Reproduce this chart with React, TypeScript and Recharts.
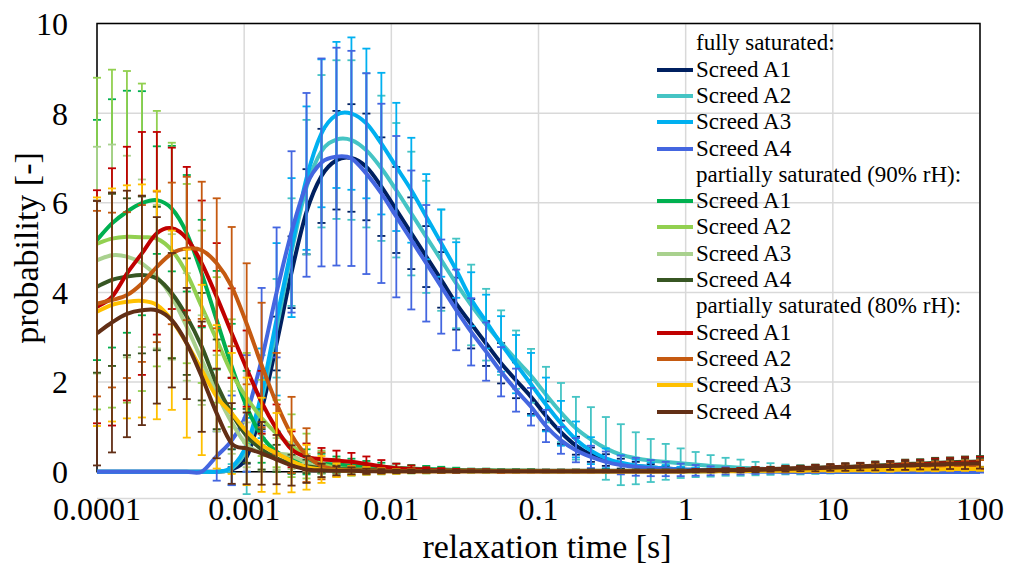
import { LineChart, Line, XAxis, YAxis, CartesianGrid, ErrorBar, ReferenceArea } from 'recharts'

const FONT = '"Liberation Serif", "Times New Roman", serif'

// relaxation time [s], 60 log-spaced points from 1e-4 to 100
const relaxationTime = [
  0.0001, 0.0001264, 0.0001597, 0.0002019, 0.0002551, 0.0003224, 0.0004075, 0.000515, 0.0006509, 0.0008228,
  0.00104, 0.001314, 0.001661, 0.002099, 0.002653, 0.003353, 0.004238, 0.005356, 0.006769, 0.008556,
  0.01081, 0.01367, 0.01727, 0.02183, 0.02759, 0.03487, 0.04407, 0.0557, 0.0704, 0.08897,
  0.1124, 0.1421, 0.1796, 0.227, 0.2869, 0.3626, 0.4582, 0.5791, 0.7319, 0.925,
  1.169, 1.478, 1.868, 2.36, 2.983, 3.771, 4.765, 6.022, 7.611, 9.619,
  12.16, 15.36, 19.42, 24.54, 31.01, 39.2, 49.54, 62.61, 79.13, 100,
]

const xTicks = [0.0001, 0.001, 0.01, 0.1, 1, 10, 100]
const yTicks = [0, 2, 4, 6, 8, 10]

// fully saturated
const fullA1 = [
  0, 0, 0, 0, 0, 0, 0, 0, 0, 0.05,
  0.33, 1.38, 2.86, 4.45, 5.8, 6.6, 6.95, 7.0, 6.8, 6.36,
  5.84, 5.32, 4.8, 4.28, 3.75, 3.3, 2.86, 2.42, 2.04, 1.67,
  1.25, 0.88, 0.58, 0.38, 0.26, 0.18, 0.13, 0.1, 0.07, 0.05,
  0.04, 0.03, 0.02, 0.02, 0.01, 0.01, 0.01, 0, 0, 0,
  0, 0, 0, 0, 0, 0, 0, 0, 0, 0,
]
const fullA1Err = [
  0, 0, 0, 0, 0, 0, 0, 0, 0, 0.05,
  0.15, 0.35, 0.6, 0.8, 0.95, 1.05, 1.1, 1.2, 1.19, 1.1,
  0.96, 0.8, 0.68, 0.62, 0.58, 0.55, 0.5, 0.45, 0.4, 0.38,
  0.32, 0.26, 0.2, 0.16, 0.13, 0.11, 0.09, 0.07, 0.06, 0.05,
  0.04, 0.04, 0.03, 0.03, 0.02, 0.02, 0.02, 0.01, 0.01, 0.01,
  0, 0, 0, 0, 0, 0, 0, 0, 0, 0,
]
const fullA2 = [
  0, 0, 0, 0, 0, 0, 0, 0, 0, 0.07,
  0.5, 1.6, 3.2, 4.9, 6.35, 7.15, 7.41, 7.4, 7.17, 6.77,
  6.28, 5.76, 5.24, 4.72, 4.2, 3.72, 3.28, 2.88, 2.5, 2.14,
  1.72, 1.32, 0.97, 0.72, 0.52, 0.38, 0.3, 0.25, 0.22, 0.19,
  0.16, 0.13, 0.11, 0.09, 0.07, 0.06, 0.05, 0.04, 0.03, 0.02,
  0.02, 0.01, 0.01, 0.01, 0.01, 0.01, 0.01, 0.01, 0.01, 0.01,
]
const fullA2Err = [
  0, 0, 0, 0, 0, 0, 0, 0, 0, 0.1,
  1.0, 1.0, 1.1, 1.2, 1.5, 1.7, 1.77, 1.78, 1.72, 1.62,
  1.5, 1.38, 1.25, 1.13, 1.0, 0.9, 0.8, 0.72, 0.65, 0.6,
  0.62, 0.66, 0.7, 0.72, 0.7, 0.68, 0.58, 0.48, 0.4, 0.33,
  0.28, 0.24, 0.2, 0.18, 0.15, 0.13, 0.11, 0.1, 0.08, 0.06,
  0.05, 0.04, 0.04, 0.03, 0.03, 0.03, 0.02, 0.02, 0.02, 0.02,
]
const fullA3 = [
  0, 0, 0, 0, 0, 0, 0, 0, 0, 0.1,
  0.6, 1.75, 3.4, 5.0, 6.55, 7.55, 7.96, 7.99, 7.77, 7.32,
  6.8, 6.28, 5.69, 5.1, 4.5, 3.85, 3.35, 2.85, 2.4, 1.95,
  1.5, 1.08, 0.72, 0.47, 0.3, 0.2, 0.14, 0.1, 0.07, 0.05,
  0.04, 0.03, 0.02, 0.02, 0.01, 0.01, 0.01, 0.01, 0, 0,
  0, 0, 0, 0, 0, 0, 0, 0, 0, 0,
]
const fullA3Err = [
  0, 0, 0, 0, 0, 0, 0, 0, 0, 0.4,
  0.6, 1.0, 1.7, 1.55, 1.6, 1.65, 1.63, 1.7, 1.67, 1.58,
  1.43, 1.17, 0.95, 0.75, 0.62, 0.6, 0.6, 0.62, 0.65, 0.7,
  0.6, 0.5, 0.4, 0.3, 0.22, 0.17, 0.13, 0.1, 0.08, 0.06,
  0.05, 0.04, 0.03, 0.03, 0.02, 0.02, 0.02, 0.01, 0.01, 0.01,
  0, 0, 0, 0, 0, 0, 0, 0, 0, 0,
]
const fullA4 = [
  0, 0, 0, 0, 0, 0, 0, 0, 0.35, 0.7,
  1.3, 2.5, 4.0, 5.35, 6.4, 6.9, 7.03, 6.99, 6.65, 6.21,
  5.69, 5.17, 4.65, 4.13, 3.61, 3.12, 2.68, 2.23, 1.82, 1.45,
  1.02, 0.7, 0.48, 0.33, 0.22, 0.15, 0.11, 0.08, 0.06, 0.04,
  0.03, 0.02, 0.02, 0.01, 0.01, 0.01, 0, 0, 0, 0,
  0, 0, 0, 0, 0, 0, 0, 0, 0, 0,
]
const fullA4Err = [
  0, 0, 0, 0, 0, 0, 0, 0, 0.55, 1.0,
  1.3, 1.6, 1.45, 1.8, 2.05, 2.32, 2.43, 2.4, 2.24, 2.0,
  1.8, 1.55, 1.3, 1.05, 0.9, 0.75, 0.65, 0.55, 0.48, 0.42,
  0.36, 0.3, 0.27, 0.25, 0.23, 0.21, 0.2, 0.18, 0.16, 0.14,
  0.12, 0.1, 0.08, 0.07, 0.06, 0.05, 0.04, 0.04, 0.03, 0.03,
  0.02, 0.02, 0.02, 0.02, 0.02, 0.02, 0.02, 0.02, 0.02, 0.02,
]

// partially saturated (90% rH)
const rh90A1 = [
  5.17, 5.54, 5.8, 5.99, 6.06, 5.87, 5.32, 4.42, 3.38, 2.35,
  1.45, 0.8, 0.45, 0.3, 0.22, 0.18, 0.16, 0.14, 0.12, 0.1,
  0.09, 0.07, 0.06, 0.05, 0.04, 0.03, 0.03, 0.02, 0.02, 0.02,
  0.01, 0.01, 0.01, 0.01, 0.01, 0.01, 0.01, 0.01, 0.01, 0.01,
  0.01, 0.02, 0.02, 0.03, 0.03, 0.04, 0.05, 0.05, 0.06, 0.07,
  0.08, 0.09, 0.1, 0.11, 0.12, 0.13, 0.14, 0.15, 0.16, 0.17,
]
const rh90A1Err = [
  2.68, 2.77, 2.7, 2.5, 1.2, 1.4, 1.3, 1.2, 1.1, 0.95,
  0.8, 0.6, 0.45, 0.35, 0.28, 0.22, 0.18, 0.15, 0.12, 0.1,
  0.09, 0.08, 0.07, 0.06, 0.05, 0.04, 0.04, 0.03, 0.03, 0.03,
  0.02, 0.02, 0.02, 0.02, 0.02, 0.02, 0.02, 0.02, 0.02, 0.02,
  0.02, 0.02, 0.03, 0.03, 0.04, 0.04, 0.05, 0.05, 0.06, 0.06,
  0.07, 0.07, 0.08, 0.08, 0.09, 0.09, 0.1, 0.1, 0.11, 0.11,
]
const rh90A2 = [
  5.09, 5.2, 5.24, 5.23, 5.2, 4.94, 4.42, 3.68, 2.94, 2.2,
  1.65, 1.2, 0.85, 0.58, 0.35, 0.17, 0.09, 0.06, 0.05, 0.04,
  0.03, 0.03, 0.02, 0.02, 0.02, 0.02, 0.01, 0.01, 0.01, 0.01,
  0.01, 0.01, 0.01, 0.01, 0.01, 0.01, 0.01, 0.01, 0.01, 0.01,
  0.01, 0.01, 0.02, 0.02, 0.03, 0.03, 0.04, 0.05, 0.05, 0.06,
  0.07, 0.08, 0.09, 0.1, 0.11, 0.12, 0.13, 0.14, 0.15, 0.16,
]
const rh90A2Err = [
  3.7, 3.77, 3.7, 3.43, 2.85, 2.4, 2.0, 1.7, 1.4, 1.2,
  1.0, 0.85, 0.75, 0.7, 0.5, 0.3, 0.2, 0.15, 0.12, 0.1,
  0.08, 0.07, 0.06, 0.05, 0.04, 0.04, 0.03, 0.03, 0.03, 0.02,
  0.02, 0.02, 0.02, 0.02, 0.02, 0.02, 0.02, 0.02, 0.02, 0.02,
  0.02, 0.02, 0.03, 0.03, 0.04, 0.04, 0.05, 0.05, 0.06, 0.06,
  0.07, 0.07, 0.08, 0.08, 0.09, 0.09, 0.1, 0.1, 0.11, 0.11,
]
const rh90A3 = [
  4.72, 4.83, 4.8, 4.65, 4.35, 3.9, 3.23, 2.49, 1.75, 1.1,
  0.6, 0.43, 0.4, 0.36, 0.2, 0.08, 0.05, 0.04, 0.03, 0.03,
  0.02, 0.02, 0.02, 0.02, 0.02, 0.02, 0.02, 0.02, 0.02, 0.02,
  0.01, 0.01, 0.01, 0.01, 0.01, 0.01, 0.01, 0.01, 0.01, 0.01,
  0.01, 0.01, 0.02, 0.02, 0.03, 0.03, 0.04, 0.04, 0.05, 0.06,
  0.07, 0.08, 0.09, 0.1, 0.11, 0.12, 0.13, 0.13, 0.14, 0.15,
]
const rh90A3Err = [
  2.53, 2.47, 2.25, 1.87, 1.6, 1.4, 1.2, 1.0, 0.85, 0.7,
  0.5, 0.4, 0.35, 0.3, 0.2, 0.12, 0.1, 0.08, 0.07, 0.06,
  0.05, 0.05, 0.04, 0.04, 0.03, 0.03, 0.03, 0.02, 0.02, 0.02,
  0.02, 0.02, 0.02, 0.02, 0.02, 0.02, 0.02, 0.02, 0.02, 0.02,
  0.02, 0.02, 0.03, 0.03, 0.04, 0.04, 0.05, 0.05, 0.06, 0.06,
  0.07, 0.07, 0.08, 0.08, 0.09, 0.09, 0.1, 0.1, 0.11, 0.11,
]
const rh90A4 = [
  4.13, 4.28, 4.35, 4.39, 4.31, 3.98, 3.46, 2.79, 1.95, 1.3,
  0.8, 0.5, 0.3, 0.18, 0.12, 0.08, 0.06, 0.05, 0.04, 0.03,
  0.03, 0.02, 0.02, 0.02, 0.02, 0.02, 0.02, 0.02, 0.02, 0.02,
  0.02, 0.02, 0.02, 0.02, 0.02, 0.02, 0.02, 0.02, 0.02, 0.02,
  0.02, 0.03, 0.03, 0.04, 0.05, 0.06, 0.07, 0.08, 0.09, 0.1,
  0.11, 0.12, 0.14, 0.15, 0.17, 0.18, 0.2, 0.21, 0.22, 0.23,
]
const rh90A4Err = [
  1.92, 1.92, 1.75, 1.75, 1.6, 1.45, 1.3, 1.2, 1.0, 0.8,
  0.6, 0.45, 0.3, 0.2, 0.15, 0.1, 0.08, 0.06, 0.05, 0.05,
  0.04, 0.04, 0.04, 0.04, 0.03, 0.03, 0.03, 0.03, 0.03, 0.03,
  0.03, 0.03, 0.03, 0.03, 0.03, 0.03, 0.03, 0.03, 0.03, 0.03,
  0.03, 0.03, 0.04, 0.04, 0.05, 0.05, 0.06, 0.06, 0.07, 0.07,
  0.08, 0.08, 0.09, 0.09, 0.1, 0.1, 0.11, 0.11, 0.12, 0.12,
]

// partially saturated (80% rH)
const rh80A1 = [
  3.68, 3.9, 4.42, 4.87, 5.32, 5.43, 5.2, 4.65, 3.9, 3.09,
  2.3, 1.55, 0.95, 0.5, 0.33, 0.28, 0.25, 0.22, 0.17, 0.12,
  0.08, 0.06, 0.04, 0.03, 0.02, 0.02, 0.02, 0.01, 0.01, 0.01,
  0.01, 0.01, 0.01, 0.01, 0.01, 0.01, 0.01, 0.01, 0.01, 0.01,
  0.02, 0.02, 0.03, 0.04, 0.05, 0.05, 0.06, 0.07, 0.08, 0.09,
  0.1, 0.11, 0.12, 0.14, 0.15, 0.16, 0.18, 0.19, 0.2, 0.21,
]
const rh80A1Err = [
  2.6, 2.87, 2.83, 2.71, 2.26, 1.8, 1.6, 1.4, 1.2, 1.0,
  0.85, 0.7, 0.55, 0.4, 0.3, 0.25, 0.22, 0.2, 0.17, 0.14,
  0.1, 0.08, 0.06, 0.05, 0.04, 0.03, 0.03, 0.03, 0.02, 0.02,
  0.02, 0.02, 0.02, 0.02, 0.02, 0.02, 0.02, 0.02, 0.02, 0.02,
  0.03, 0.03, 0.04, 0.04, 0.05, 0.05, 0.06, 0.06, 0.07, 0.07,
  0.08, 0.08, 0.09, 0.09, 0.1, 0.1, 0.11, 0.11, 0.12, 0.12,
]
const rh80A2 = [
  3.75, 3.83, 3.94, 4.2, 4.57, 4.87, 4.98, 4.94, 4.65, 4.13,
  3.3, 2.38, 1.52, 0.82, 0.37, 0.13, 0.05, 0.03, 0.02, 0.02,
  0.01, 0.01, 0.01, 0.01, 0.01, 0.01, 0.01, 0.01, 0.01, 0.01,
  0.01, 0.01, 0.01, 0.01, 0.01, 0.01, 0.01, 0.01, 0.01, 0.01,
  0.01, 0.01, 0.02, 0.02, 0.03, 0.03, 0.04, 0.04, 0.05, 0.06,
  0.07, 0.08, 0.09, 0.1, 0.11, 0.12, 0.12, 0.13, 0.14, 0.15,
]
const rh80A2Err = [
  2.07, 1.95, 1.85, 1.75, 1.68, 1.58, 1.6, 1.53, 1.45, 1.33,
  1.35, 1.39, 1.13, 0.85, 0.6, 0.3, 0.15, 0.1, 0.08, 0.06,
  0.05, 0.04, 0.03, 0.03, 0.02, 0.02, 0.02, 0.02, 0.02, 0.02,
  0.02, 0.02, 0.02, 0.02, 0.02, 0.02, 0.02, 0.02, 0.02, 0.02,
  0.02, 0.02, 0.03, 0.03, 0.04, 0.04, 0.05, 0.05, 0.06, 0.06,
  0.07, 0.07, 0.08, 0.08, 0.09, 0.09, 0.1, 0.1, 0.11, 0.11,
]
const rh80A3 = [
  3.57, 3.72, 3.79, 3.81, 3.72, 3.38, 2.86, 2.27, 1.67, 1.3,
  0.9, 0.6, 0.41, 0.24, 0.1, 0.05, 0.03, 0.02, 0.02, 0.01,
  0.01, 0.01, 0.01, 0.01, 0.01, 0.01, 0.01, 0.01, 0.01, 0.01,
  0.01, 0.01, 0.01, 0.01, 0.01, 0.01, 0.01, 0.01, 0.01, 0.01,
  0.01, 0.01, 0.01, 0.01, 0.02, 0.02, 0.02, 0.02, 0.03, 0.03,
  0.03, 0.04, 0.04, 0.04, 0.05, 0.05, 0.05, 0.06, 0.06, 0.06,
]
const rh80A3Err = [
  2.55, 2.6, 2.6, 2.6, 2.55, 2.0, 2.1, 1.9, 1.6, 1.35,
  1.2, 1.05, 0.9, 0.7, 0.5, 0.3, 0.15, 0.1, 0.08, 0.06,
  0.05, 0.04, 0.03, 0.03, 0.02, 0.02, 0.02, 0.02, 0.02, 0.02,
  0.02, 0.02, 0.02, 0.02, 0.02, 0.02, 0.02, 0.02, 0.02, 0.02,
  0.02, 0.02, 0.02, 0.02, 0.02, 0.02, 0.03, 0.03, 0.03, 0.03,
  0.03, 0.03, 0.04, 0.04, 0.04, 0.04, 0.04, 0.04, 0.04, 0.04,
]
const rh80A4 = [
  3.09, 3.33, 3.52, 3.6, 3.6, 3.38, 2.86, 2.12, 1.3, 0.63,
  0.52, 0.41, 0.27, 0.14, 0.05, 0.03, 0.02, 0.02, 0.01, 0.01,
  0.01, 0.01, 0.01, 0.01, 0.01, 0.01, 0.01, 0.01, 0.01, 0.01,
  0.01, 0.01, 0.01, 0.01, 0.01, 0.01, 0.01, 0.01, 0.01, 0.01,
  0.02, 0.02, 0.03, 0.03, 0.04, 0.05, 0.06, 0.07, 0.08, 0.09,
  0.1, 0.11, 0.12, 0.13, 0.14, 0.15, 0.16, 0.17, 0.18, 0.19,
]
const rh80A4Err = [
  2.95, 2.9, 2.75, 2.56, 2.08, 1.5, 1.24, 1.23, 1.0, 0.9,
  0.8, 0.7, 0.55, 0.45, 0.3, 0.15, 0.1, 0.08, 0.06, 0.05,
  0.04, 0.04, 0.03, 0.03, 0.03, 0.02, 0.02, 0.02, 0.02, 0.02,
  0.02, 0.02, 0.02, 0.02, 0.02, 0.02, 0.02, 0.02, 0.02, 0.02,
  0.03, 0.03, 0.04, 0.04, 0.05, 0.05, 0.06, 0.06, 0.07, 0.07,
  0.08, 0.08, 0.09, 0.09, 0.1, 0.1, 0.11, 0.11, 0.12, 0.12,
]

const groupTitles = ['fully saturated:', 'partially saturated (90% rH):', 'partially saturated (80% rH):']

const series = [
  { key: 'fullA1', group: 0, name: 'Screed A1', color: '#002060', values: fullA1, errors: fullA1Err },
  { key: 'fullA2', group: 0, name: 'Screed A2', color: '#45C4C4', values: fullA2, errors: fullA2Err },
  { key: 'fullA3', group: 0, name: 'Screed A3', color: '#00B0F0', values: fullA3, errors: fullA3Err },
  { key: 'fullA4', group: 0, name: 'Screed A4', color: '#4466E0', values: fullA4, errors: fullA4Err },
  { key: 'rh90A1', group: 1, name: 'Screed A1', color: '#00B050', values: rh90A1, errors: rh90A1Err },
  { key: 'rh90A2', group: 1, name: 'Screed A2', color: '#92D050', values: rh90A2, errors: rh90A2Err },
  { key: 'rh90A3', group: 1, name: 'Screed A3', color: '#A9D18E', values: rh90A3, errors: rh90A3Err },
  { key: 'rh90A4', group: 1, name: 'Screed A4', color: '#375623', values: rh90A4, errors: rh90A4Err },
  { key: 'rh80A1', group: 2, name: 'Screed A1', color: '#C00000', values: rh80A1, errors: rh80A1Err },
  { key: 'rh80A2', group: 2, name: 'Screed A2', color: '#C55A11', values: rh80A2, errors: rh80A2Err },
  { key: 'rh80A3', group: 2, name: 'Screed A3', color: '#FFC000', values: rh80A3, errors: rh80A3Err },
  { key: 'rh80A4', group: 2, name: 'Screed A4', color: '#622F16', values: rh80A4, errors: rh80A4Err },
]

const data = relaxationTime.map((t, i) => {
  const row: Record<string, number> = { t }
  series.forEach((s) => {
    row[s.key] = s.values[i]
    row[s.key + 'Err'] = s.errors[i]
  })
  return row
})

// legend rows: a title, then the four screeds of that group
const legendRows: { label: string; color?: string }[] = []
groupTitles.forEach((title, g) => {
  legendRows.push({ label: title })
  series.filter((s) => s.group === g).forEach((s) => legendRows.push({ label: s.name, color: s.color }))
})

// Excel-like smoothed line (Catmull-Rom through the points)
function excelSmooth(context: any) {
  let pts: number[][] = []
  return {
    areaStart() {},
    areaEnd() {},
    lineStart() {
      pts = []
    },
    point(x: number, y: number) {
      pts.push([+x, +y])
    },
    lineEnd() {
      if (!pts.length) return
      context.moveTo(pts[0][0], pts[0][1])
      for (let i = 0; i < pts.length - 1; i++) {
        const p0 = pts[i - 1] ?? pts[i]
        const p1 = pts[i]
        const p2 = pts[i + 1]
        const p3 = pts[i + 2] ?? p2
        context.bezierCurveTo(
          p1[0] + (p2[0] - p0[0]) / 6,
          p1[1] + (p2[1] - p0[1]) / 6,
          p2[0] - (p3[0] - p1[0]) / 6,
          p2[1] - (p3[1] - p1[1]) / 6,
          p2[0],
          p2[1],
        )
      }
    },
  }
}

const tickStyle = { fontSize: 32, fill: '#000', fontFamily: FONT }

// plot box: y = 10 at 23.5px, y = 0 at 471.7px; y axis runs a bit below 0 so error bars are not cut
const PLOT_TOP = 23.5
const PLOT_ZERO = 471.7

export default function App() {
  return (
    <div style={{ position: 'absolute', left: 0, top: 0, width: 1009, height: 565, background: '#fff', fontFamily: FONT }}>
      <LineChart width={1009} height={565} data={data} margin={{ top: PLOT_TOP, right: 29, bottom: 16.4, left: 17 }}>
        <CartesianGrid stroke="#d9d9d9" strokeWidth={1.5} y={PLOT_TOP} height={PLOT_ZERO - PLOT_TOP} />
        <XAxis
          dataKey="t"
          type="number"
          scale="log"
          domain={[0.0001, 100]}
          ticks={xTicks}
          allowDataOverflow
          height={50}
          tickSize={0}
          tickMargin={-1}
          axisLine={false}
          tick={tickStyle}
          tickFormatter={(v: number) => String(v)}
        />
        <YAxis
          type="number"
          domain={[-0.6, 10]}
          ticks={yTicks}
          allowDataOverflow
          width={80}
          tickSize={0}
          tickMargin={29}
          axisLine={false}
          tick={tickStyle}
        />
        <ReferenceArea x1={0.0001} x2={100} y1={0} y2={10} fill="none" stroke="#000" strokeWidth={1.5} />
        {series.map((s) => (
          <Line
            key={s.key}
            dataKey={s.key}
            type={excelSmooth as any}
            stroke={s.color}
            strokeWidth={4}
            dot={false}
            isAnimationActive={false}
          >
            <ErrorBar
              dataKey={s.key + 'Err'}
              direction="y"
              width={4}
              stroke={s.color}
              strokeWidth={1.8}
              isAnimationActive={false}
            />
          </Line>
        ))}
      </LineChart>

      {/* axis titles */}
      <div
        style={{
          position: 'absolute',
          left: 547,
          top: 529.5,
          transform: 'translateX(-50%)',
          fontSize: 34,
          lineHeight: '34px',
          whiteSpace: 'nowrap',
        }}
      >
        relaxation time [s]
      </div>
      <div
        style={{
          position: 'absolute',
          left: 27,
          top: 248,
          transform: 'translate(-50%, -50%) rotate(-90deg)',
          fontSize: 34,
          lineHeight: '34px',
          whiteSpace: 'nowrap',
        }}
      >
        probability [-]
      </div>

      {/* legend */}
      {legendRows.map((r, k) => (
        <div
          key={k}
          style={{
            position: 'absolute',
            left: 657,
            top: 43.3 + 26.3 * k - 13,
            height: 26,
            display: 'flex',
            alignItems: 'center',
            fontSize: 23,
            lineHeight: '26px',
            whiteSpace: 'nowrap',
          }}
        >
          <span style={{ display: 'inline-block', width: 36, height: 4, background: r.color ?? 'transparent', marginRight: 3 }} />
          <span>{r.label}</span>
        </div>
      ))}
    </div>
  )
}
